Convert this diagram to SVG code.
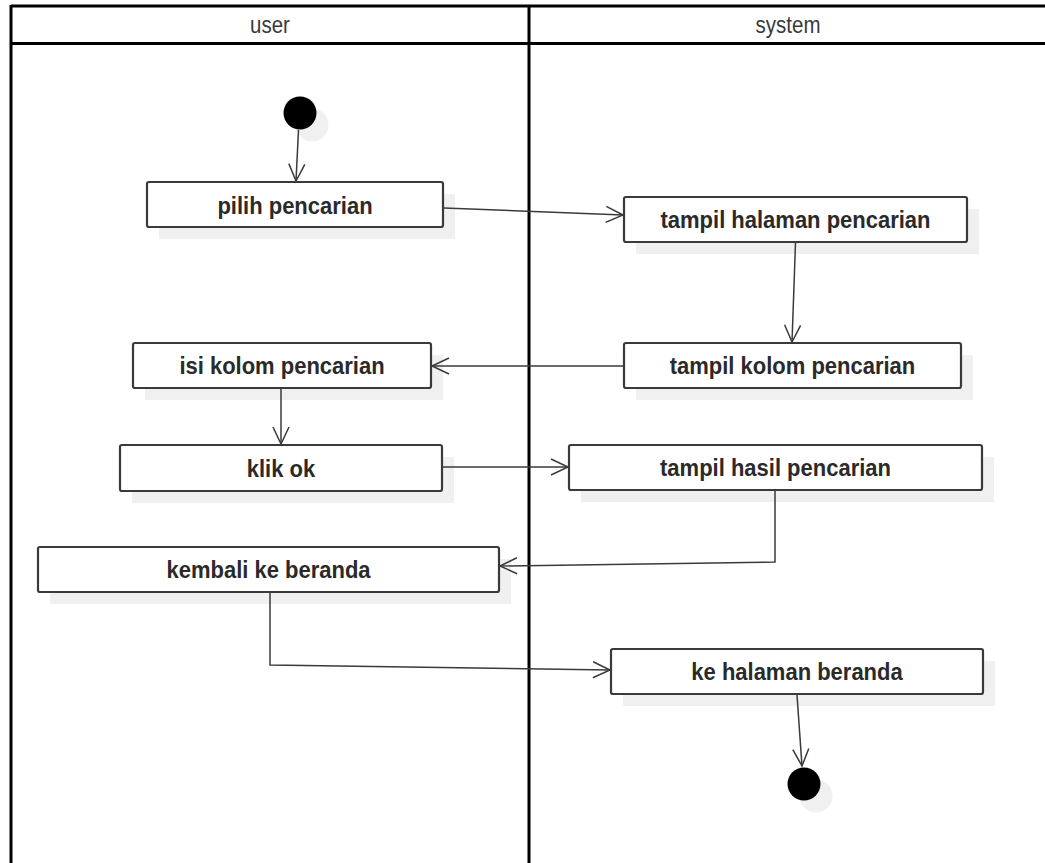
<svg xmlns="http://www.w3.org/2000/svg" width="1045" height="863" viewBox="0 0 1045 863">
  <style>
    .frame { stroke: #000; stroke-width: 3; fill: none; }
    .hdr { font-family: "Liberation Sans", Arial, sans-serif; font-size: 20.5px; fill: #3a3a3a; text-anchor: middle; }
    .shadow { fill: #f0f0f0; }
    .box { fill: #fff; stroke: #3a3a3a; stroke-width: 2.2; }
    .lbl { font-family: "Liberation Sans", Arial, sans-serif; font-size: 22px; font-weight: bold; fill: #2a2a2a; text-anchor: middle; }
    .dot { fill: #000; }
    .edge { fill: none; stroke: #3a3a3a; stroke-width: 1.5; marker-end: url(#open); }
  </style>
  <defs>
    <marker id="open" markerUnits="userSpaceOnUse" viewBox="-19 -10 21 20" markerWidth="21" markerHeight="20" refX="0" refY="0" orient="auto">
      <path d="M-17,-8 L0,0 L-17,8" fill="none" stroke="#3a3a3a" stroke-width="1.5"/>
    </marker>
  </defs>

  <rect x="0" y="0" width="1045" height="863" fill="#fff"/>

  <!-- swimlane frame: header band and two lanes -->
  <g id="lanes">
    <line class="frame" x1="11" y1="6" x2="1045" y2="6"/>
    <line class="frame" x1="11" y1="43.5" x2="1045" y2="43.5" stroke-width="2.5"/>
    <line class="frame" x1="11" y1="5" x2="11" y2="863"/>
    <line class="frame" x1="529" y1="5" x2="529" y2="863" stroke-width="3.5"/>
    <text class="hdr" transform="translate(270,33) scale(1,1.15)">user</text>
    <text class="hdr" transform="translate(788,33) scale(1,1.15)">system</text>
  </g>

  <!-- start -->
  <g id="start">
    <circle class="shadow" cx="312" cy="125" r="16.5"/>
    <circle class="dot" cx="300" cy="113" r="16.5"/>
  </g>

  <g id="pilih-pencarian">
    <rect class="shadow" x="159" y="194" width="296" height="45"/>
    <rect class="box" x="147" y="182" width="296" height="45" rx="2"/>
    <text class="lbl" transform="translate(295,213.5) scale(1,1.1)">pilih pencarian</text>
  </g>

  <g id="tampil-halaman-pencarian">
    <rect class="shadow" x="636" y="209" width="343" height="45"/>
    <rect class="box" x="624" y="197" width="343" height="45" rx="2"/>
    <text class="lbl" transform="translate(795.5,228) scale(1,1.1)">tampil halaman pencarian</text>
  </g>

  <g id="isi-kolom-pencarian">
    <rect class="shadow" x="145" y="355" width="298" height="45"/>
    <rect class="box" x="133" y="343" width="298" height="45" rx="2"/>
    <text class="lbl" transform="translate(282,373.5) scale(1,1.1)">isi kolom pencarian</text>
  </g>

  <g id="tampil-kolom-pencarian">
    <rect class="shadow" x="636" y="355" width="337" height="45"/>
    <rect class="box" x="624" y="343" width="337" height="45" rx="2"/>
    <text class="lbl" transform="translate(792.5,374) scale(1,1.1)">tampil kolom pencarian</text>
  </g>

  <g id="klik-ok">
    <rect class="shadow" x="132" y="457" width="322" height="46"/>
    <rect class="box" x="120" y="445" width="322" height="46" rx="2"/>
    <text class="lbl" transform="translate(281,476.5) scale(1,1.1)">klik ok</text>
  </g>

  <g id="tampil-hasil-pencarian">
    <rect class="shadow" x="581" y="457" width="413" height="45"/>
    <rect class="box" x="569" y="445" width="413" height="45" rx="2"/>
    <text class="lbl" transform="translate(775.5,475.5) scale(1,1.1)">tampil hasil pencarian</text>
  </g>

  <g id="kembali-ke-beranda">
    <rect class="shadow" x="50" y="559" width="461" height="45"/>
    <rect class="box" x="38" y="547" width="461" height="45" rx="2"/>
    <text class="lbl" transform="translate(268.5,578) scale(1,1.1)">kembali ke beranda</text>
  </g>

  <g id="ke-halaman-beranda">
    <rect class="shadow" x="623" y="661" width="372" height="45"/>
    <rect class="box" x="611" y="649" width="372" height="45" rx="2"/>
    <text class="lbl" transform="translate(797,680) scale(1,1.1)">ke halaman beranda</text>
  </g>

  <!-- end -->
  <g id="end">
    <circle class="shadow" cx="816" cy="796" r="16.5"/>
    <circle class="dot" cx="804" cy="784" r="16.5"/>
  </g>

  <!-- control flows -->
  <g id="connectors">
    <path class="edge" d="M298.5,130 L296,181"/>
    <path class="edge" d="M444,208 L623,215"/>
    <path class="edge" d="M795.5,243 L792,342"/>
    <path class="edge" d="M623,366 L432,366"/>
    <path class="edge" d="M281,389 L281,444"/>
    <path class="edge" d="M443,467 L568,467"/>
    <path class="edge" d="M775,491 L775,562 L500,566"/>
    <path class="edge" d="M270,593 L270,665 L610,670"/>
    <path class="edge" d="M797,695 L802,766"/>
  </g>
</svg>
